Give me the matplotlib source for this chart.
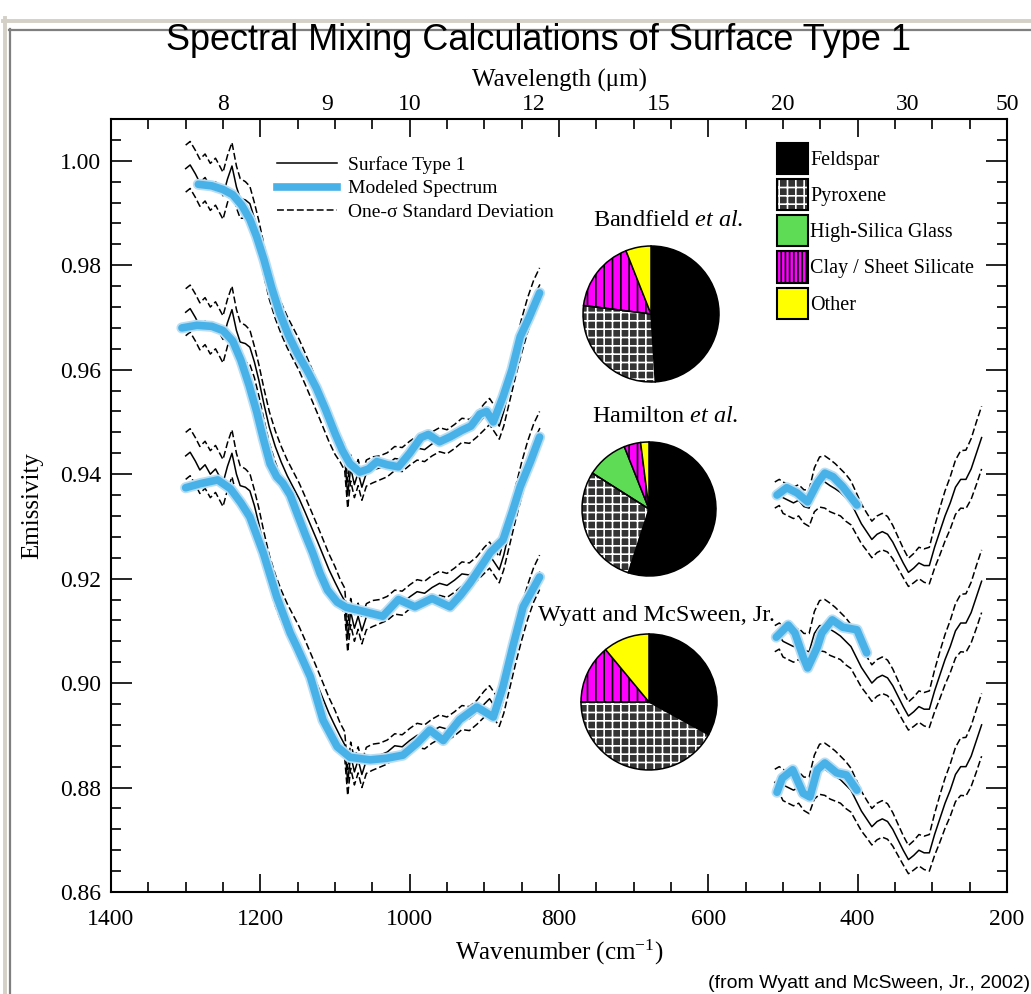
import matplotlib
matplotlib.use("Agg")
import matplotlib.pyplot as plt
import matplotlib.patheffects as pe
import numpy as np
from matplotlib import font_manager
from matplotlib.lines import Line2D
from matplotlib.patches import Patch, Wedge
from matplotlib.ticker import MultipleLocator, FormatStrFormatter

# Surface Type 1 emissivity, 1300-826 cm-1 window (top copy, no offset)
WN_LEFT = [1300, 1294, 1287, 1281, 1274, 1267, 1260, 1250, 1244, 1238,
           1232, 1227, 1220, 1214, 1208, 1202, 1195, 1188, 1180, 1172,
           1164, 1156, 1148, 1140, 1132, 1124, 1116, 1108, 1100, 1093,
           1087, 1083, 1079, 1074, 1069, 1064, 1058, 1050, 1040, 1030,
           1020, 1010, 1000, 990, 980, 970, 960, 950, 940, 930,
           920, 910, 900, 893, 886, 880, 874, 866, 858, 850,
           842, 834, 826]
EMIS_LEFT = [0.9985, 0.9992, 0.9975, 0.9958, 0.9968, 0.9950, 0.9960, 0.9933, 0.9965, 0.9990,
             0.9950, 0.9928, 0.9925, 0.9918, 0.9890, 0.9855, 0.9808, 0.9765, 0.9728, 0.9698,
             0.9672, 0.9650, 0.9628, 0.9602, 0.9575, 0.9548, 0.9520, 0.9492, 0.9468, 0.9448,
             0.9432, 0.9360, 0.9412, 0.9380, 0.9403, 0.9375, 0.9402, 0.9408, 0.9412, 0.9418,
             0.9430, 0.9428, 0.9440, 0.9450, 0.9447, 0.9458, 0.9466, 0.9462, 0.9472, 0.9484,
             0.9482, 0.9494, 0.9510, 0.9520, 0.9505, 0.9492, 0.9520, 0.9570, 0.9620, 0.9665,
             0.9705, 0.9738, 0.9762]
SIGMA_LEFT = [0.0045, 0.0045, 0.0045, 0.0045, 0.0045, 0.0045, 0.0045, 0.0045, 0.0045, 0.0045,
              0.0040, 0.0038, 0.0035, 0.0033, 0.0030, 0.0030, 0.0030, 0.0030, 0.0030, 0.0030,
              0.0030, 0.0030, 0.0030, 0.0030, 0.0030, 0.0030, 0.0030, 0.0030, 0.0030, 0.0025,
              0.0025, 0.0025, 0.0025, 0.0025, 0.0025, 0.0025, 0.0025, 0.0025, 0.0023, 0.0023,
              0.0023, 0.0023, 0.0023, 0.0023, 0.0023, 0.0023, 0.0023, 0.0023, 0.0023, 0.0023,
              0.0023, 0.0023, 0.0025, 0.0025, 0.0025, 0.0025, 0.0028, 0.0030, 0.0032, 0.0033,
              0.0033, 0.0033, 0.0033]

# Surface Type 1 emissivity, 511-234 cm-1 window
WN_RIGHT = [511, 505, 500, 493, 486, 479, 472, 465, 458, 451,
            444, 437, 430, 423, 416, 409, 402, 395, 388, 381,
            374, 367, 360, 353, 346, 339, 332, 325, 318, 311,
            304, 297, 290, 283, 276, 269, 262, 255, 248, 241,
            234]
EMIS_RIGHT = [0.9360, 0.9365, 0.9355, 0.9350, 0.9345, 0.9350, 0.9338, 0.9335, 0.9370, 0.9385,
              0.9385, 0.9378, 0.9372, 0.9365, 0.9355, 0.9345, 0.9325, 0.9305, 0.9290, 0.9275,
              0.9285, 0.9290, 0.9285, 0.9270, 0.9250, 0.9230, 0.9212, 0.9220, 0.9230, 0.9225,
              0.9225, 0.9260, 0.9290, 0.9320, 0.9345, 0.9375, 0.9390, 0.9390, 0.9410, 0.9440,
              0.9470]
SIGMA_RIGHT = [0.0025, 0.0025, 0.0030, 0.0030, 0.0030, 0.0030, 0.0032, 0.0035, 0.0042, 0.0048,
               0.0050, 0.0050, 0.0048, 0.0045, 0.0045, 0.0042, 0.0040, 0.0038, 0.0036, 0.0035,
               0.0035, 0.0035, 0.0034, 0.0032, 0.0030, 0.0028, 0.0027, 0.0028, 0.0030, 0.0032,
               0.0035, 0.0040, 0.0045, 0.0048, 0.0050, 0.0052, 0.0055, 0.0056, 0.0058, 0.0060,
               0.0060]

# the measured spectrum is repeated under each model, shifted down
SET_OFFSETS = [0.0, -0.0275, -0.055]

# modeled spectra (already on the shifted scale of their own copy)
BANDFIELD_WN_L = [1283, 1265, 1250, 1237, 1225, 1214, 1205, 1195, 1185, 1174,
                  1162, 1150, 1137, 1125, 1113, 1100, 1090, 1080, 1067, 1055,
                  1044, 1030, 1015, 1000, 985, 975, 960, 945, 930, 918,
                  906, 897, 888, 875, 863, 852, 840, 826]
BANDFIELD_L = [0.9955, 0.9952, 0.9945, 0.9935, 0.9915, 0.9888, 0.9855, 0.9810, 0.9758, 0.9708,
               0.9665, 0.9630, 0.9598, 0.9565, 0.9525, 0.9478, 0.9445, 0.9420, 0.9404, 0.9410,
               0.9424, 0.9418, 0.9414, 0.9440, 0.9470, 0.9476, 0.9462, 0.9472, 0.9484, 0.9492,
               0.9515, 0.9520, 0.9500, 0.9548, 0.9600, 0.9663, 0.9700, 0.9747]
BANDFIELD_WN_R = [508, 495, 481, 467, 454, 444, 433, 420, 401]
BANDFIELD_R = [0.9360, 0.9374, 0.9364, 0.9347, 0.9383, 0.9402, 0.9395, 0.9376, 0.9341]

HAMILTON_WN_L = [1305, 1285, 1265, 1250, 1237, 1226, 1215, 1205, 1196, 1187,
                 1178, 1170, 1160, 1150, 1140, 1130, 1120, 1110, 1097, 1085,
                 1070, 1053, 1036, 1015, 993, 970, 946, 932, 919, 905,
                 892, 875, 862, 852, 838, 826]
HAMILTON_L = [0.9680, 0.9685, 0.9683, 0.9675, 0.9655, 0.9618, 0.9570, 0.9520, 0.9468, 0.9420,
              0.9395, 0.9383, 0.9360, 0.9322, 0.9285, 0.9250, 0.9210, 0.9178, 0.9155, 0.9145,
              0.9140, 0.9134, 0.9128, 0.9160, 0.9146, 0.9162, 0.9146, 0.9168, 0.9192, 0.9222,
              0.9250, 0.9274, 0.9330, 0.9376, 0.9425, 0.9471]
HAMILTON_WN_R = [509, 493, 484, 473, 467, 454, 448, 434, 420, 401, 388]
HAMILTON_R = [0.9088, 0.9111, 0.9096, 0.9050, 0.9029, 0.9069, 0.9096, 0.9121, 0.9107, 0.9102, 0.9058]

WYATT_WN_L = [1300, 1280, 1257, 1240, 1226, 1214, 1196, 1178, 1160, 1151,
              1133, 1116, 1097, 1080, 1053, 1031, 1009, 990, 973, 955,
              933, 910, 888, 875, 862, 848, 826]
WYATT_L = [0.9374, 0.9382, 0.9389, 0.9372, 0.9345, 0.9318, 0.9249, 0.9165, 0.9096, 0.9069,
           0.9012, 0.8929, 0.8878, 0.8858, 0.8853, 0.8856, 0.8862, 0.8885, 0.8910, 0.8890,
           0.8930, 0.8954, 0.8935, 0.8993, 0.9069, 0.9146, 0.9203]
WYATT_WN_R = [508, 501, 487, 473, 464, 454, 444, 428, 415, 401]
WYATT_R = [0.8791, 0.8818, 0.8834, 0.8789, 0.8782, 0.8834, 0.8847, 0.8828, 0.8824, 0.8795]

# mineral abundances (%) for the three pies
COMPONENTS = ["Feldspar", "Pyroxene", "High-Silica Glass", "Clay / Sheet Silicate", "Other"]
BANDFIELD_PCT = [49, 28, 0, 17, 6]
HAMILTON_PCT = [55, 29, 10, 4, 2]
WYATT_PCT = [33, 42, 0, 14, 11]

WAVELENGTHS = [8, 9, 10, 12, 15, 20, 30, 50]

W, H = 1031, 994
BLUE = "#48b2e8"
FACES = ["black", "#333333", "#5fdc55", "#ff00ff", "#ffff00"]
HATCHES = [None, "++", None, "||", None]
HATCH_COLORS = [None, "white", None, "black", None]


def fx(px):
    return px / W


def fy(py):
    return 1 - py / H


plt.rcParams["font.family"] = "Liberation Serif"
plt.rcParams["mathtext.fontset"] = "custom"
plt.rcParams["mathtext.rm"] = "Liberation Serif"
plt.rcParams["mathtext.it"] = "Liberation Serif:italic"
plt.rcParams["hatch.linewidth"] = 1.2

names = {f.name for f in font_manager.fontManager.ttflist}
if "Liberation Sans Narrow" in names:
    title_font, title_size = "Liberation Sans Narrow", 31
else:
    title_font, title_size = "Liberation Sans", 26

fig = plt.figure(figsize=(W / 100, H / 100), dpi=100)
ax = fig.add_axes([fx(111), fy(892), (1007 - 111) / W, (892 - 119) / H])
top = ax.twiny()

dash = (0, (4.5, 2.0))
glow = [pe.withStroke(linewidth=8, foreground="#b9def4")]

models = [
    (BANDFIELD_WN_L, BANDFIELD_L, BANDFIELD_WN_R, BANDFIELD_R),
    (HAMILTON_WN_L, HAMILTON_L, HAMILTON_WN_R, HAMILTON_R),
    (WYATT_WN_L, WYATT_L, WYATT_WN_R, WYATT_R),
]

for off, (mwl, ml, mwr, mr) in zip(SET_OFFSETS, models):
    for wn, em, sg in ((WN_LEFT, EMIS_LEFT, SIGMA_LEFT), (WN_RIGHT, EMIS_RIGHT, SIGMA_RIGHT)):
        em = np.array(em) + off
        sg = np.array(sg)
        ax.plot(wn, em, color="black", lw=1.1, zorder=2)
        ax.plot(wn, em + sg, color="black", lw=1.1, ls=dash, zorder=2)
        ax.plot(wn, em - sg, color="black", lw=1.1, ls=dash, zorder=2)
    for wn, em in ((mwl, ml), (mwr, mr)):
        ax.plot(wn, em, color=BLUE, lw=5.5, solid_capstyle="round",
                path_effects=glow, zorder=3)

ax.set_xlim(1400, 200)
ax.set_ylim(0.86, 1.008)
top.set_xlim(ax.get_xlim())

ax.xaxis.set_major_locator(MultipleLocator(200))
ax.xaxis.set_minor_locator(MultipleLocator(50))
ax.yaxis.set_major_locator(MultipleLocator(0.02))
ax.yaxis.set_minor_locator(MultipleLocator(0.004))
ax.yaxis.set_major_formatter(FormatStrFormatter("%.2f"))

ax.tick_params(which="both", direction="in", top=True, right=True,
               labeltop=False, width=1.2, labelsize=17)
ax.tick_params(axis="x", which="major", length=13, pad=12)
ax.tick_params(axis="x", which="minor", length=7.5)
ax.tick_params(axis="y", which="major", length=15, pad=7)
ax.tick_params(axis="y", which="minor", length=7.5)
for s in ax.spines.values():
    s.set_linewidth(1.5)

top.set_xticks([10000 / w for w in WAVELENGTHS])
top.set_xticklabels([str(w) for w in WAVELENGTHS])
top.tick_params(axis="x", length=0, pad=3, labelsize=17)
for s in top.spines.values():
    s.set_visible(False)
top.set_xlabel("Wavelength (\u03bcm)", fontsize=18, labelpad=5)

ax.set_xlabel("Wavenumber (cm$^{-1}$)", fontsize=18, labelpad=6)
ax.set_ylabel("Emissivity", fontsize=18, labelpad=12)

# line legend, upper left
line_handles = [
    Line2D([], [], color="black", lw=1.1),
    Line2D([], [], color=BLUE, lw=5.5),
    Line2D([], [], color="black", lw=1.1, ls=dash),
]
line_labels = ["Surface Type 1", "Modeled Spectrum", "One-\u03c3 Standard Deviation"]
leg1 = ax.legend(line_handles, line_labels, loc="upper left",
                 bbox_to_anchor=(fx(277), fy(156)), bbox_transform=fig.transFigure,
                 frameon=False, fontsize=14, handlelength=3.1, handletextpad=0.55,
                 labelspacing=0.3, borderpad=0, borderaxespad=0)
ax.add_artist(leg1)

# mineral legend, upper right
patch_handles = []
for face, hatch, hcol in zip(FACES, HATCHES, HATCH_COLORS):
    if hcol == "white":
        patch_handles.append((Patch(facecolor=face, edgecolor="white", hatch=hatch, lw=0),
                              Patch(fill=False, edgecolor="black", lw=1.5)))
    else:
        patch_handles.append(Patch(facecolor=face, edgecolor="black",
                                   hatch="||||" if hatch else None, lw=1.5))
ax.legend(patch_handles, COMPONENTS, loc="upper left",
          bbox_to_anchor=(fx(777), fy(143)), bbox_transform=fig.transFigure,
          frameon=False, fontsize=14.5, handlelength=1.54, handleheight=2.0,
          handletextpad=0.12, labelspacing=0.25, borderpad=0, borderaxespad=0)


def draw_pie(cx, cy, r, pct, title, tx, ty):
    pax = fig.add_axes([fx(cx - r), fy(cy + r), 2 * r / W, 2 * r / H])
    keep = [i for i, v in enumerate(pct) if v > 0]
    wedges, _ = pax.pie([pct[i] for i in keep], colors=[FACES[i] for i in keep],
                        startangle=90, counterclock=False, radius=1,
                        wedgeprops=dict(linewidth=1.1, edgecolor="black"))
    for w, i in zip(wedges, keep):
        w.set_clip_on(False)
        if HATCHES[i]:
            w.set_hatch(HATCHES[i])
            if HATCH_COLORS[i] == "white":
                w.set_edgecolor("white")
                w.set_linewidth(0)
                pax.add_patch(Wedge(w.center, w.r, w.theta1, w.theta2, fill=False,
                                    edgecolor="black", lw=1.1, clip_on=False))
    pax.set_xlim(-1, 1)
    pax.set_ylim(-1, 1)
    pax.set_aspect("equal")
    pax.axis("off")
    fig.text(fx(tx), fy(ty), title, ha="center", va="center", fontsize=17.5)


draw_pie(651, 314, 68, BANDFIELD_PCT, r"Bandfield $\mathit{et\ al.}$", 668, 221)
draw_pie(649, 509, 67, HAMILTON_PCT, r"Hamilton $\mathit{et\ al.}$", 665, 417)
draw_pie(649, 702, 68, WYATT_PCT, "Wyatt and McSween, Jr.", 656, 616)

fig.text(fx(539), fy(40), "Spectral Mixing Calculations of Surface Type 1",
         ha="center", va="center", family=title_font, fontsize=title_size)
fig.text(fx(1030), fy(983), "(from Wyatt and McSween, Jr., 2002)",
         ha="right", va="center", family="Liberation Sans", fontsize=14)

# page frame
fig.add_artist(Line2D([fx(4.5), fx(4.5)], [fy(18), 0], color="#d4d0c8", lw=2.8,
                      transform=fig.transFigure))
fig.add_artist(Line2D([fx(3), 1], [fy(20.5), fy(20.5)], color="#d4d0c8", lw=2.8,
                      transform=fig.transFigure))
fig.add_artist(Line2D([fx(9.7), fx(9.7)], [fy(29), 0], color="#7f7f7f", lw=1.6,
                      transform=fig.transFigure))
fig.add_artist(Line2D([fx(9), 1], [fy(29.7), fy(29.7)], color="#7f7f7f", lw=1.6,
                      transform=fig.transFigure))

fig.savefig("out.png", dpi=100)
